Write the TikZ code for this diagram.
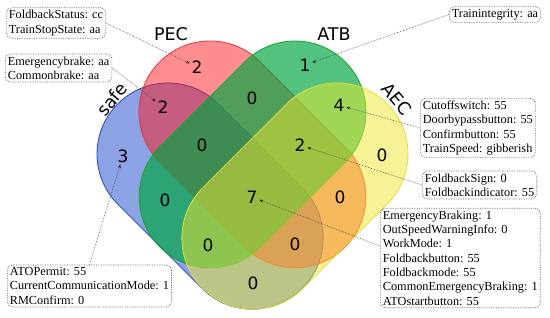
\documentclass[tikz,border=0pt]{standalone}
\usepackage{fontspec}
\setmainfont{Liberation Serif}
\newfontfamily\vennfont{DejaVu Sans}
\usetikzlibrary{arrows.meta}
\definecolor{safeC}{RGB}{45,85,205}
\definecolor{safeE}{RGB}{35,70,190}
\definecolor{pecC}{RGB}{255,25,30}
\definecolor{pecE}{RGB}{230,50,60}
\definecolor{atbC}{RGB}{0,165,65}
\definecolor{atbE}{RGB}{20,165,40}
\definecolor{aecC}{RGB}{238,232,45}
\definecolor{aecE}{RGB}{225,222,60}
\newcommand{\vcapsule}[5]{%
  \begin{scope}[shift={(#1,#2)},rotate=#3]
    \path[#5] (0,71) arc[start angle=90,end angle=270,radius=71]
      -- (#4,-71) arc[start angle=-90,end angle=90,radius=71] -- cycle;
  \end{scope}}
\begin{document}
\begin{tikzpicture}[x=1pt,y=1pt,
  num/.style={font=\vennfont\fontsize{17}{17}\selectfont,inner sep=1.5pt},
  setlabel/.style={font=\vennfont\fontsize{17.5}{17.5}\selectfont,inner sep=0pt},
  infobox/.style={draw=gray!75!black,densely dotted,line width=0.7pt,rounded corners=5pt,
    align=left,font=\fontsize{12.3pt}{14.3pt}\selectfont,inner sep=2.5pt,anchor=west},
  conn/.style={draw=gray!60!black,densely dotted,line width=0.6pt,
    -{Stealth[length=3.5pt,width=2.6pt,color=black]},shorten >=0.5pt}]
\useasboundingbox (0,0) rectangle (550,317);
% sets
\vcapsule{168}{163}{-45}{119}{fill=safeC,fill opacity=0.55,draw=safeE,line width=0.8pt}
\vcapsule{210}{205}{-45}{120}{fill=pecC,fill opacity=0.5,draw=pecE,line width=0.8pt}
\vcapsule{295}{205}{-135}{120}{fill=atbC,fill opacity=0.68,draw=atbE,line width=0.8pt}
\vcapsule{337}{163}{-135}{119}{fill=aecC,fill opacity=0.5,draw=aecE,line width=0.8pt}
% set labels
\node[setlabel] (lpec) at (171,283) {PEC};
\node[setlabel] (latb) at (334,283) {ATB};
\node[setlabel,rotate=50] (lsafe) at (112,218) {safe};
\node[setlabel,rotate=-50] (laec) at (397,218) {AEC};
% counts
\node[num] (npec) at (197,250) {2};
\node[num] (nsp) at (163,210) {2};
\node[num] (nsafe) at (123,161) {3};
\node[num] (natb) at (305,252) {1};
\node[num] (npa) at (252,219) {0};
\node[num] (naa) at (339,212) {4};
\node[num] (naec) at (382,162) {0};
\node[num] (nspa) at (202,172) {0};
\node[num] (npaa) at (300,172) {2};
\node[num] (nsa) at (165,117) {0};
\node[num] (nall) at (252,120) {7};
\node[num] (npe) at (340,120) {0};
\node[num] (nsaa) at (208,72) {0};
\node[num] (nspe) at (295,73) {0};
\node[num] (nse) at (253,34) {0};
% info boxes
\node[infobox] (box1) at (6,294) {FoldbackStatus: cc\\TrainStopState: aa};
\node[infobox] (box2) at (5,249) {Emergencybrake: aa\\Commonbrake: aa};
\node[infobox] (box3) at (449,302.5) {Trainintegrity: aa};
\node[infobox] (box4) at (420,189) {Cutoffswitch: 55\\Doorbypassbutton: 55\\Confirmbutton: 55\\TrainSpeed: gibberish};
\node[infobox] (box5) at (422,132) {FoldbackSign: 0\\Foldbackindicator: 55};
\node[infobox] (box6) at (380,59) {EmergencyBraking: 1\\OutSpeedWarningInfo: 0\\WorkMode: 1\\Foldbackbutton: 55\\Foldbackmode: 55\\CommonEmergencyBraking: 1\\ATOstartbutton: 55};
\node[infobox] (box7) at (7,31) {ATOPermit: 55\\CurrentCommunicationMode: 1\\RMConfirm: 0};
% connectors
\draw[conn] (box1.east) -- (npec);
\draw[conn] (box2.east) -- (nsp);
\draw[conn] (box3.west) -- (natb);
\draw[conn] (box4.west) -- (naa);
\draw[conn] (box5.west) -- (npaa);
\draw[conn] ([yshift=12pt]box6.west) -- (nall);
\draw[conn] (box7.north) -- (nsafe);
\end{tikzpicture}
\end{document}
